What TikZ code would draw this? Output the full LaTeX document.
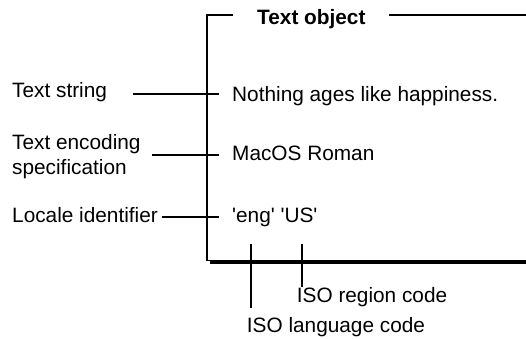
\documentclass[tikz,border=0pt]{standalone}
\usepackage{fontspec}
\setmainfont{Liberation Sans}
\begin{document}
\begin{tikzpicture}[x=1pt,y=-1pt,
  lbl/.style={anchor=base west,inner sep=0pt,font=\fontsize{20.8}{24.5}\selectfont},
  ttl/.style={anchor=base west,inner sep=0pt,font=\fontsize{20.8}{24.5}\selectfont\bfseries},
  ln/.style={line width=1.1pt,line cap=butt}]
\useasboundingbox (0,0) rectangle (526,338);
% frame
\node[ttl] (title) at (257,24) {Text object};
\coordinate (tl) at (207,15);
\coordinate (tla) at (233,15);
\coordinate (tra) at (389,15);
\coordinate (tr) at (526,15);
\coordinate (bl) at (207,260.8);
\coordinate (br) at (526,260.8);
\draw[ln] (tla) -- (tl) -- (bl) -- (br);
\draw[ln] (tra) -- (tr);
\coordinate (sh1) at (210,262.4);
\coordinate (sh2) at (526,262.4);
\draw[line width=3.4pt] (sh1) -- (sh2);
% contents
\node[lbl] (nothing) at (232,101) {Nothing ages like happiness.};
\node[lbl] (macos) at (232,160) {MacOS Roman};
\node[lbl] (eng) at (232,222) {\textquotesingle eng\textquotesingle{} \textquotesingle US\textquotesingle};
% left labels
\node[lbl] (ts) at (12,97) {Text string};
\node[lbl,anchor=north west,align=left] (tes) at (12,134.5) {Text encoding\\specification};
\node[lbl] (li) at (12,222) {Locale identifier};
\coordinate (tsa) at (133,94);
\coordinate (tsb) at (219,94);
\coordinate (tea) at (152,155);
\coordinate (teb) at (219,155);
\coordinate (lia) at (162,217);
\coordinate (lib) at (219,217);
\draw[ln] (tsa) -- (tsb);
\draw[ln] (tea) -- (teb);
\draw[ln] (lia) -- (lib);
% bottom labels
\node[lbl] (region) at (296.7,302.7) {ISO region code};
\node[lbl] (lang) at (246.7,332.7) {ISO language code};
\coordinate (rga) at (302,244);
\coordinate (rgb) at (302,287);
\coordinate (lga) at (251,244);
\coordinate (lgb) at (251,308);
\draw[ln] (rga) -- (rgb);
\draw[ln] (lga) -- (lgb);
\end{tikzpicture}
\end{document}
